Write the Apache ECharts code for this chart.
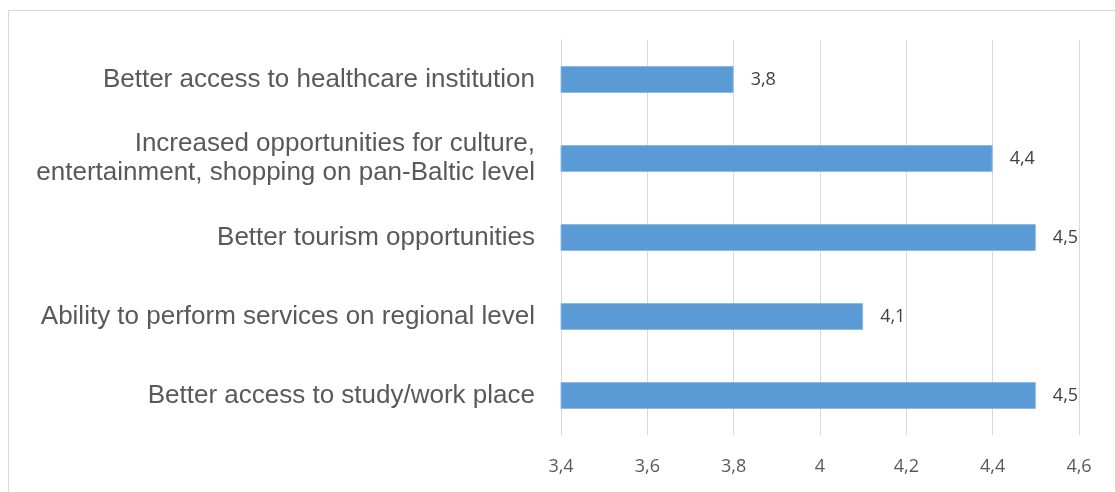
<!DOCTYPE html>
<html>
<head>
<meta charset="utf-8">
<script src="https://cdn.jsdelivr.net/npm/echarts@6/dist/echarts.min.js"></script>
<style>
  html, body { margin: 0; padding: 0; background: #fff; overflow: hidden; }
  .frame {
    position: absolute; left: 8px; top: 10px;
    width: 1200px; height: 600px;
    border: 1px solid #d9d9d9;
  }
  #chart { position: absolute; left: 0; top: 0; width: 1115px; height: 492px; }
</style>
</head>
<body>
<div class="frame"></div>
<div id="chart"></div>
<script>
const categories = [
  'Better access to healthcare institution',
  'Increased opportunities for culture,\nentertainment, shopping on pan-Baltic level',
  'Better tourism opportunities',
  'Ability to perform services on regional level',
  'Better access to study/work place'
]
const values = [3.8, 4.4, 4.5, 4.1, 4.5]

// comma as decimal separator like the original
const fmt = v => String(v).replace('.', ',')

const chart = echarts.init(document.getElementById('chart'))
const option = {
  animation: false,
  grid: {
    left: 561,
    right: 36,
    top: 40,
    bottom: 57
  },
  xAxis: {
    type: 'value',
    min: 3.4,
    max: 4.6,
    interval: 0.2,
    axisLine: { show: false },
    axisTick: { show: false },
    splitLine: { lineStyle: { color: '#d9d9d9', width: 1 } },
    axisLabel: {
      margin: 23,
      color: '#595959',
      fontFamily: 'Open Sans',
      fontSize: 18,
      formatter: v => fmt(Math.round(v * 10) / 10)
    }
  },
  yAxis: {
    type: 'category',
    inverse: true,
    data: categories,
    axisLine: { show: true, lineStyle: { color: '#d9d9d9' } },
    axisTick: { show: false },
    axisLabel: {
      margin: 26,
      color: '#595959',
      fontFamily: 'Liberation Sans',
      fontSize: 26,
      lineHeight: 29,
      align: 'right'
    }
  },
  series: [
    {
      type: 'bar',
      data: values,
      barWidth: 27,
      itemStyle: { color: '#5b9bd5', borderColor: '#8fbbe3', borderWidth: 1 },
      label: {
        show: true,
        position: 'right',
        distance: 17,
        color: '#404040',
        fontFamily: 'Open Sans',
        fontSize: 18,
        formatter: p => fmt(p.value)
      }
    }
  ]
}
chart.setOption(option)
</script>
</body>
</html>
